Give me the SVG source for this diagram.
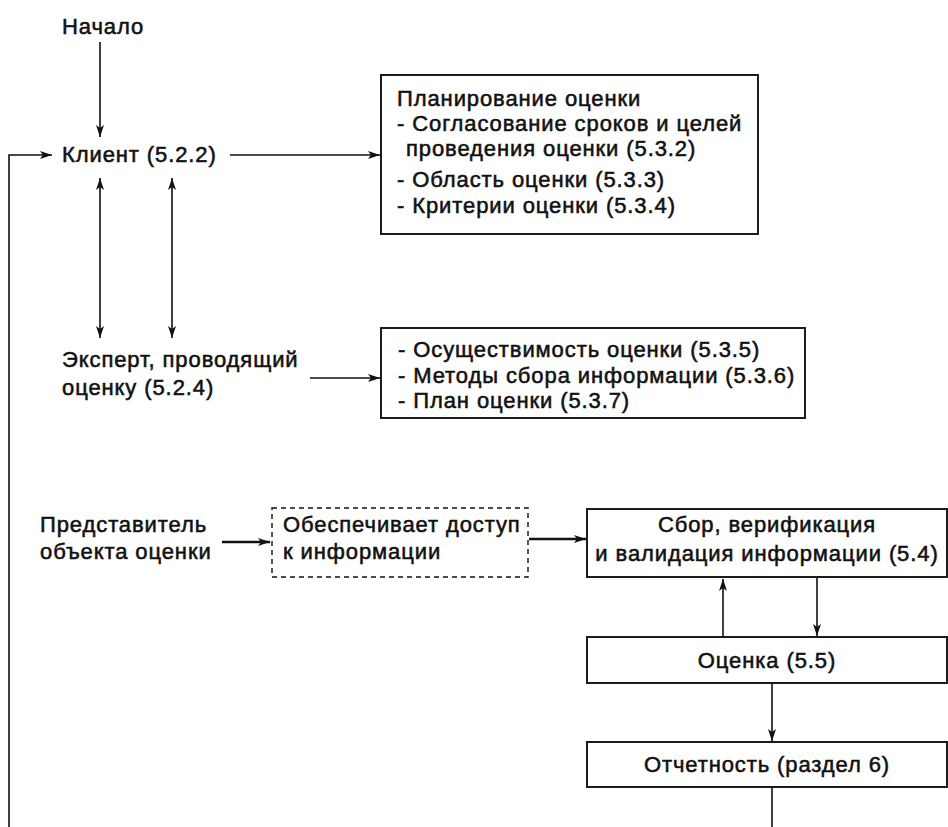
<svg xmlns="http://www.w3.org/2000/svg" width="948" height="827" viewBox="0 0 948 827">
<style>
text{font-family:"Liberation Sans",Arial,sans-serif;font-size:22px;letter-spacing:0.9px;fill:#111;stroke:#111;stroke-width:0.55}
.box{fill:#fff;stroke:#111;stroke-width:1.9}
.dash{fill:#fff;stroke:#111;stroke-width:1.4;stroke-dasharray:5 4}
.ln{fill:none;stroke:#111;stroke-width:1.6}
.thk{stroke-width:2.3}
.c{text-anchor:middle}
</style>
<defs>
<marker id="ah" viewBox="0 0 12 8" refX="12" refY="4" markerWidth="12" markerHeight="8" markerUnits="userSpaceOnUse" orient="auto-start-reverse">
<path d="M0,0 L12,4 L0,8 L3,4 Z" fill="#111"/>
</marker>
</defs>
<rect width="948" height="827" fill="#fff"/>
<g id="connectors">
<line class="ln" x1="100" y1="42" x2="100" y2="137" marker-end="url(#ah)"/>
<polyline class="ln" points="9,827 9,155 52,155" marker-end="url(#ah)"/>
<line class="ln" x1="230" y1="155" x2="380" y2="155" marker-end="url(#ah)"/>
<line class="ln" x1="100" y1="178" x2="100" y2="338" marker-start="url(#ah)" marker-end="url(#ah)"/>
<line class="ln" x1="172" y1="178" x2="172" y2="338" marker-start="url(#ah)" marker-end="url(#ah)"/>
<line class="ln" x1="310" y1="378" x2="380" y2="378" marker-end="url(#ah)"/>
<line class="ln thk" x1="222" y1="542" x2="270" y2="542" marker-end="url(#ah)"/>
<line class="ln thk" x1="529" y1="539" x2="586" y2="539" marker-end="url(#ah)"/>
<line class="ln" x1="723" y1="637" x2="723" y2="579" marker-end="url(#ah)"/>
<line class="ln" x1="817" y1="578" x2="817" y2="636" marker-end="url(#ah)"/>
<line class="ln" x1="772" y1="684" x2="772" y2="741" marker-end="url(#ah)"/>
<line class="ln" x1="772" y1="788" x2="772" y2="827"/>
</g>
<g id="start"><text x="62" y="34">Начало</text></g>
<g id="client"><text x="62" y="162">Клиент (5.2.2)</text></g>
<g id="planning">
<rect class="box" x="381" y="75" width="377" height="159"/>
<text x="397" y="106">Планирование оценки</text>
<text x="397" y="131">- Согласование сроков и целей</text>
<text x="406" y="156">проведения оценки (5.3.2)</text>
<text x="397" y="187">- Область оценки (5.3.3)</text>
<text x="397" y="213">- Критерии оценки (5.3.4)</text>
</g>
<g id="expert">
<text x="62" y="367">Эксперт, проводящий</text>
<text x="62" y="395">оценку (5.2.4)</text>
</g>
<g id="feasibility">
<rect class="box" x="381" y="328" width="424" height="90"/>
<text x="398" y="357">- Осуществимость оценки (5.3.5)</text>
<text x="398" y="383">- Методы сбора информации (5.3.6)</text>
<text x="398" y="408">- План оценки (5.3.7)</text>
</g>
<g id="representative">
<text x="40" y="532">Представитель</text>
<text x="40" y="559">объекта оценки</text>
</g>
<g id="access">
<rect class="dash" x="272" y="508" width="256" height="69"/>
<text x="283" y="532">Обеспечивает доступ</text>
<text x="283" y="559">к информации</text>
</g>
<g id="collection">
<rect class="box" x="587" y="509" width="360" height="68"/>
<text class="c" x="767" y="532">Сбор, верификация</text>
<text class="c" x="767" y="561">и валидация информации (5.4)</text>
</g>
<g id="assessment">
<rect class="box" x="587" y="637" width="360" height="46"/>
<text class="c" x="767" y="668">Оценка (5.5)</text>
</g>
<g id="reporting">
<rect class="box" x="587" y="742" width="360" height="45"/>
<text class="c" x="767" y="772">Отчетность (раздел 6)</text>
</g>
</svg>
